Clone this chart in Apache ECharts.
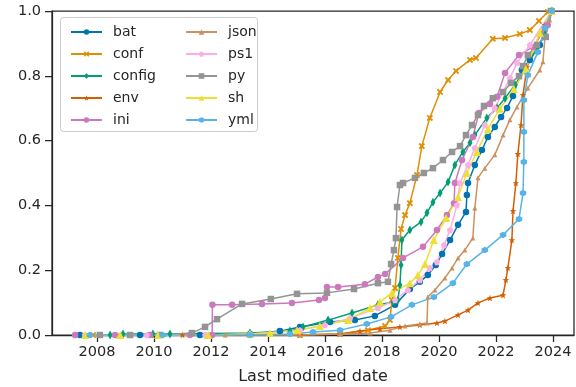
<!DOCTYPE html>
<html>
<head>
<meta charset="utf-8">
<script src="https://cdn.jsdelivr.net/npm/echarts@6/dist/echarts.min.js"></script>
<style>
  html, body { margin: 0; padding: 0; background: #fff; }
  #chart { width: 576px; height: 387px; }
</style>
</head>
<body>
<div id="chart"></div>
<script>
// Cumulative share of files by last-modified date, per file extension.
// Each entry: [decimal year, cumulative fraction]
const extensions = ['bat', 'conf', 'config', 'env', 'ini', 'json', 'ps1', 'py', 'sh', 'yml'];

const batData = [[2007.40,0],[2009.51,0],[2011.61,0],[2013.37,0.003],[2014.42,0.012],[2015.12,0.025],[2016.18,0.040],[2017.05,0.046],[2017.75,0.059],[2018.46,0.093],[2018.98,0.142],[2019.33,0.164],[2019.61,0.185],[2019.89,0.216],[2020.11,0.250],[2020.39,0.293],[2020.67,0.340],[2020.95,0.380],[2020.98,0.432],[2021.02,0.469],[2021.26,0.525],[2021.51,0.571],[2021.72,0.611],[2021.96,0.642],[2022.18,0.673],[2022.39,0.701],[2022.60,0.738],[2022.91,0.818],[2023.19,0.849],[2023.54,0.895],[2023.96,1.0]];

const confData = [[2007.86,0],[2009.86,0],[2013.37,0],[2015.12,0],[2016.53,0.003],[2017.51,0.015],[2018.11,0.028],[2018.28,0.046],[2018.35,0.108],[2018.46,0.145],[2018.56,0.238],[2018.67,0.327],[2018.81,0.370],[2018.98,0.407],[2019.23,0.494],[2019.40,0.583],[2019.68,0.670],[2020.04,0.750],[2020.32,0.787],[2020.60,0.815],[2021.09,0.849],[2021.30,0.855],[2021.89,0.914],[2022.32,0.917],[2022.84,0.929],[2023.19,0.941],[2023.51,0.969],[2023.82,0.997],[2023.96,1.0]];

const configData = [[2008.46,0],[2008.91,0.003],[2009.96,0.003],[2010.56,0.003],[2013.37,0.006],[2014.77,0.012],[2015.23,0.025],[2016.11,0.046],[2016.95,0.068],[2017.86,0.093],[2018.39,0.102],[2018.56,0.108],[2018.63,0.154],[2018.67,0.216],[2018.70,0.293],[2018.98,0.324],[2019.37,0.349],[2019.58,0.377],[2019.79,0.410],[2020.04,0.438],[2020.32,0.472],[2020.56,0.525],[2020.84,0.565],[2021.09,0.593],[2021.26,0.617],[2021.68,0.670],[2022.04,0.701],[2022.32,0.731],[2022.67,0.772],[2023.02,0.818],[2023.44,0.886],[2023.72,0.926],[2023.96,1.0]];

const envData = [[2007.75,0],[2011.00,0],[2015.12,0],[2016.53,0.003],[2017.23,0.012],[2017.93,0.019],[2018.63,0.025],[2019.33,0.031],[2019.93,0.037],[2020.21,0.043],[2020.67,0.062],[2021.02,0.077],[2021.37,0.099],[2021.79,0.114],[2022.25,0.123],[2022.35,0.170],[2022.42,0.207],[2022.56,0.293],[2022.60,0.383],[2022.70,0.469],[2022.77,0.559],[2022.88,0.648],[2022.95,0.741],[2023.09,0.827],[2023.37,0.895],[2023.72,0.957],[2023.96,1.0]];

const iniData = [[2007.23,0],[2008.63,0],[2009.86,0],[2011.26,0],[2012.04,0],[2012.05,0.093],[2012.74,0.093],[2013.79,0.096],[2014.84,0.099],[2015.79,0.108],[2016.00,0.114],[2016.07,0.148],[2016.46,0.148],[2017.40,0.157],[2017.86,0.179],[2018.11,0.188],[2018.74,0.238],[2019.44,0.272],[2019.93,0.324],[2020.28,0.370],[2020.53,0.407],[2020.56,0.469],[2020.81,0.540],[2021.19,0.611],[2021.40,0.685],[2021.79,0.713],[2022.04,0.735],[2022.32,0.809],[2022.81,0.864],[2023.30,0.889],[2023.82,0.957],[2023.96,1.0]];

const jsonData = [[2008.10,0],[2012.50,0],[2015.12,0],[2016.53,0.003],[2017.58,0.006],[2018.28,0.015],[2018.81,0.028],[2019.33,0.034],[2019.58,0.037],[2019.61,0.117],[2019.86,0.139],[2020.21,0.176],[2020.46,0.207],[2020.67,0.238],[2020.91,0.262],[2021.19,0.299],[2021.26,0.392],[2021.37,0.485],[2021.61,0.515],[2021.96,0.556],[2022.25,0.617],[2022.49,0.664],[2022.74,0.704],[2023.12,0.762],[2023.54,0.818],[2023.65,0.843],[2023.72,0.920],[2023.89,0.972],[2023.96,1.0]];

const ps1Data = [[2007.58,0],[2009.75,0],[2011.80,0],[2013.37,0.003],[2015.12,0.015],[2016.00,0.031],[2016.88,0.052],[2017.86,0.083],[2018.46,0.108],[2018.91,0.139],[2019.33,0.170],[2019.68,0.207],[2019.93,0.225],[2020.18,0.278],[2020.39,0.324],[2020.63,0.401],[2020.74,0.469],[2021.02,0.525],[2021.26,0.577],[2021.61,0.648],[2021.96,0.701],[2022.25,0.750],[2022.49,0.793],[2022.74,0.840],[2023.19,0.895],[2023.96,1.0]];

const pyData = [[2008.10,0],[2009.16,0],[2010.21,0],[2011.33,0.006],[2011.79,0.025],[2012.21,0.049],[2013.09,0.096],[2014.10,0.111],[2015.02,0.127],[2016.07,0.130],[2017.02,0.142],[2017.86,0.160],[2018.21,0.164],[2018.32,0.219],[2018.42,0.262],[2018.49,0.299],[2018.53,0.395],[2018.63,0.463],[2018.74,0.469],[2019.16,0.485],[2019.47,0.500],[2019.79,0.515],[2020.14,0.540],[2020.46,0.565],[2020.74,0.583],[2020.95,0.617],[2021.16,0.648],[2021.37,0.679],[2021.58,0.707],[2021.89,0.731],[2022.25,0.750],[2022.53,0.778],[2022.81,0.799],[2022.95,0.830],[2023.12,0.864],[2023.44,0.895],[2023.75,0.920],[2023.93,1.0]];

const shData = [[2007.58,0],[2008.81,0],[2010.14,0],[2011.90,0],[2013.37,0.003],[2014.07,0.006],[2015.02,0.015],[2015.82,0.028],[2016.81,0.046],[2017.58,0.083],[2017.93,0.102],[2018.35,0.130],[2018.98,0.160],[2019.26,0.185],[2019.51,0.219],[2019.82,0.293],[2020.25,0.361],[2020.67,0.426],[2020.98,0.500],[2021.33,0.565],[2021.72,0.636],[2022.14,0.698],[2022.63,0.759],[2023.05,0.821],[2023.54,0.932],[2023.96,1.0]];

const ymlData = [[2007.75,0],[2010.30,0],[2013.37,0],[2014.77,0.003],[2015.58,0.009],[2016.53,0.015],[2017.47,0.034],[2018.32,0.056],[2019.05,0.093],[2019.82,0.117],[2020.49,0.160],[2020.98,0.219],[2021.61,0.262],[2022.25,0.309],[2022.81,0.358],[2022.95,0.438],[2022.98,0.534],[2022.98,0.627],[2022.98,0.725],[2023.12,0.802],[2023.47,0.873],[2023.72,0.948],[2023.96,1.0]];

const yearTicks = [2008, 2010, 2012, 2014, 2016, 2018, 2020, 2022, 2024];
const xRange = [2006.42, 2024.74];

const seriesData = {
  bat: batData, conf: confData, config: configData, env: envData, ini: iniData,
  json: jsonData, ps1: ps1Data, py: pyData, sh: shData, yml: ymlData
};

const palette = {
  bat: '#0173b2', conf: '#de8f05', config: '#029e73', env: '#d55e00', ini: '#cc78bc',
  json: '#ca9161', ps1: '#fbafe4', py: '#949494', sh: '#ece133', yml: '#56b4e9'
};

const SYM_X = 'path://M0,2 L2,0 L5,3 L8,0 L10,2 L7,5 L10,8 L8,10 L5,7 L2,10 L0,8 L3,5 Z';
const SYM_STAR = 'path://M5,0 L6.2,3.4 L9.8,3.5 L7,5.7 L8,9.2 L5,7.2 L2,9.2 L3,5.7 L0.2,3.5 L3.8,3.4 Z';
const SYM_PENT = 'path://M5,0 L10,3.8 L8.1,10 L1.9,10 L0,3.8 Z';
const SYM_HEX = 'path://M5,0 L9.3,2.5 L9.3,7.5 L5,10 L0.7,7.5 L0.7,2.5 Z';

const markers = {
  bat: ['circle', 6.5], conf: [SYM_X, 6.5], config: ['diamond', [5, 9]], env: [SYM_STAR, 6.5],
  ini: ['circle', 6.5], json: ['triangle', 5], ps1: [SYM_PENT, 6.5], py: ['rect', 6.5],
  sh: ['triangle', 8], yml: [SYM_HEX, 6.5]
};

const textColor = '#262626';
const font = 'DejaVu Sans';

const series = extensions.map(name => ({
  name: name,
  type: 'line',
  data: seriesData[name],
  symbol: markers[name][0],
  symbolSize: markers[name][1],
  showSymbol: true,
  lineStyle: { width: 1.5, color: palette[name] },
  itemStyle: { color: palette[name] },
  emphasis: { disabled: true },
  z: 2
}));

const legendCommon = {
  orient: 'vertical',
  top: 20,
  itemWidth: 31,
  itemHeight: 7,
  itemGap: 8,
  z: 10,
  textStyle: { fontFamily: font, fontSize: 14, color: textColor, lineHeight: 14, padding: [0, 0, 0, 6] },
  selectedMode: false
};

const chart = echarts.init(document.getElementById('chart'), null, { renderer: 'canvas' });
chart.setOption({
  animation: false,
  backgroundColor: '#ffffff',
  grid: {
    left: 52, right: 2, top: 11, bottom: 52,
    outerBoundsMode: 'none',
    containLabel: false,
    show: true, borderColor: textColor, borderWidth: 1.25, backgroundColor: 'transparent'
  },
  graphic: [{
    type: 'rect',
    z: 8,
    shape: { x: 60.5, y: 17.5, width: 197, height: 114, r: 3 },
    style: { fill: 'rgba(255,255,255,0.8)', stroke: '#cccccc', lineWidth: 1 }
  }],
  legend: [
    Object.assign({}, legendCommon, { left: 65, data: extensions.slice(0, 5) }),
    Object.assign({}, legendCommon, { left: 180, data: extensions.slice(5) })
  ],
  xAxis: {
    type: 'value',
    min: xRange[0],
    max: xRange[1],
    name: 'Last modified date',
    nameLocation: 'middle',
    nameGap: 34,
    nameTextStyle: { fontFamily: font, fontSize: 16, color: textColor },
    axisLine: { show: true, lineStyle: { color: textColor, width: 1.25 } },
    axisTick: { show: true, length: 7, lineStyle: { color: textColor, width: 1.25 }, customValues: yearTicks },
    axisLabel: {
      fontFamily: font, fontSize: 14.5, color: textColor, margin: 10,
      customValues: yearTicks,
      formatter: v => String(Math.round(v))
    },
    splitLine: { show: false }
  },
  yAxis: {
    type: 'value',
    min: 0,
    max: 1,
    interval: 0.2,
    axisLine: { show: true, lineStyle: { color: textColor, width: 1.25 } },
    axisTick: { show: true, length: 7, lineStyle: { color: textColor, width: 1.25 } },
    axisLabel: {
      fontFamily: font, fontSize: 14.5, color: textColor, margin: 11,
      formatter: v => v.toFixed(1)
    },
    splitLine: { show: false }
  },
  series: series
});
</script>
</body>
</html>
